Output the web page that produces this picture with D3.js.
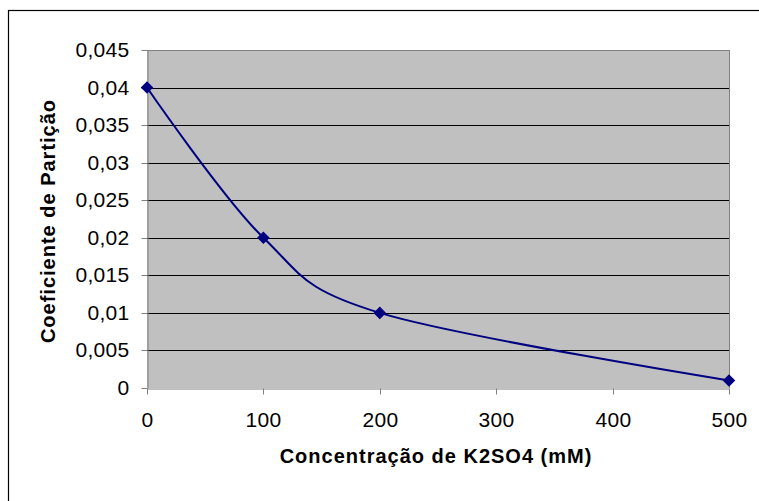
<!DOCTYPE html>
<html>
<head>
<meta charset="utf-8">
<script src="https://cdn.jsdelivr.net/npm/d3@7"></script>
<style>
  html, body { margin: 0; padding: 0; background: #fff; }
  svg { display: block; }
  text { font-family: "Liberation Sans", Arial, sans-serif; fill: #000; }
</style>
</head>
<body>
<script>
// Data
const concentrations = [0, 100, 200, 500];
const partitionCoef = [0.04, 0.02, 0.01, 0.001];
const xTicks = [0, 100, 200, 300, 400, 500];
const yTicks = [0, 0.005, 0.01, 0.015, 0.02, 0.025, 0.03, 0.035, 0.04, 0.045];
const xTitle = "Concentração de K2SO4 (mM)";
const yTitle = "Coeficiente de Partição";

const W = 759, H = 501;
const plot = { left: 147, right: 729, top: 50, bottom: 388 };

const svg = d3.select("body").append("svg").attr("width", W).attr("height", H);

// Outer chart frame (extends beyond the visible window on right/bottom)
svg.append("rect")
  .attr("x", 8.5).attr("y", 10.5)
  .attr("width", 800).attr("height", 600)
  .attr("fill", "#fff").attr("stroke", "#000").attr("stroke-width", 1.2);

const x = d3.scaleLinear().domain([0, 500]).range([plot.left, plot.right]);
const y = d3.scaleLinear().domain([0, 0.045]).range([plot.bottom, plot.top]);

// Plot area
svg.append("rect")
  .attr("x", plot.left).attr("y", plot.top)
  .attr("width", plot.right - plot.left).attr("height", plot.bottom - plot.top)
  .attr("fill", "#c0c0c0");

// Gridlines
svg.append("g").selectAll("line").data(yTicks.filter(d => d > 0)).join("line")
  .attr("x1", plot.left).attr("x2", plot.right)
  .attr("y1", d => Math.round(y(d)) + 0.5).attr("y2", d => Math.round(y(d)) + 0.5)
  .attr("stroke", "#000").attr("stroke-width", 1)
  .attr("shape-rendering", "crispEdges");

// Plot area border (top/right)
svg.append("path")
  .attr("d", `M${plot.left},${plot.top + 0.5}H${plot.right + 0.5}V${plot.bottom}`)
  .attr("fill", "none").attr("stroke", "#808080").attr("stroke-width", 1)
  .attr("shape-rendering", "crispEdges");

const fmt = v => String(+v.toFixed(3)).replace(".", ",");

// Y axis
const yAxis = svg.append("g")
  .attr("transform", `translate(${plot.left + 0.5},0)`)
  .call(d3.axisLeft(y).tickValues(yTicks).tickSize(6).tickPadding(12).tickFormat(fmt).tickSizeOuter(0));
yAxis.attr("font-size", 21).attr("font-family", '"Liberation Sans", Arial, sans-serif');
yAxis.select(".domain").attr("stroke", "#808080");
yAxis.selectAll(".tick line").attr("stroke", "#808080");
yAxis.selectAll(".tick").attr("transform", d => `translate(0,${Math.round(y(d)) + 0.5})`);
yAxis.selectAll("text")
  .style("font-size", "21px").style("letter-spacing", "0.3px").attr("fill", "#000");

// X axis
const xAxis = svg.append("g")
  .attr("transform", `translate(0,${plot.bottom + 0.5})`)
  .call(d3.axisBottom(x).tickValues(xTicks).tickSize(6).tickPadding(18).tickFormat(d3.format("d")).tickSizeOuter(0));
xAxis.attr("font-size", 21).attr("font-family", '"Liberation Sans", Arial, sans-serif');
xAxis.select(".domain").attr("stroke", "#808080");
xAxis.selectAll(".tick line").attr("stroke", "#808080");
xAxis.selectAll(".tick").attr("transform", d => `translate(${Math.round(x(d)) + 0.5},0)`);
xAxis.selectAll("text")
  .style("font-size", "21px").style("letter-spacing", "0.3px").attr("fill", "#000");

// Series line (smoothed)
const pts = concentrations.map((c, i) => [c, partitionCoef[i]]);
const line = d3.line().x(d => x(d[0])).y(d => y(d[1])).curve(d3.curveCardinal.tension(0));
svg.append("path").datum(pts)
  .attr("d", line)
  .attr("fill", "none").attr("stroke", "#000080").attr("stroke-width", 2);

// Markers (diamonds)
svg.append("g").selectAll("path").data(pts).join("path")
  .attr("d", d3.symbol().type(d3.symbolSquare).size(62))
  .attr("transform", d => `translate(${x(d[0])},${y(d[1])}) rotate(45)`)
  .attr("fill", "#000080").attr("stroke", "#000080").attr("stroke-width", 1);

// Axis titles
svg.append("text")
  .attr("x", (plot.left + plot.right) / 2 - 2).attr("y", 463)
  .attr("text-anchor", "middle")
  .style("font-size", "20px").style("font-weight", "bold").style("letter-spacing", "1px")
  .text(xTitle);

svg.append("text")
  .attr("transform", `translate(55,${(plot.top + plot.bottom) / 2 + 2}) rotate(-90)`)
  .attr("text-anchor", "middle")
  .style("font-size", "20px").style("font-weight", "bold").style("letter-spacing", "1px")
  .text(yTitle);
</script>
</body>
</html>
